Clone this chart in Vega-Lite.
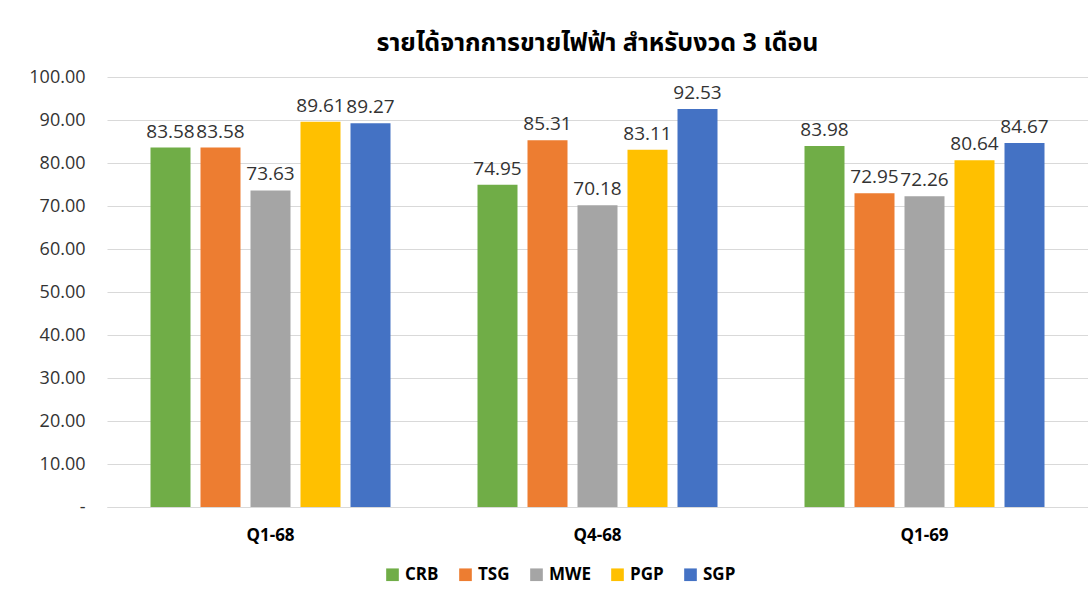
{
  "$schema": "https://vega.github.io/schema/vega-lite/v6.json",
  "width": 981,
  "height": 430,
  "padding": {"left": 28, "top": 31, "right": 0, "bottom": 5},
  "background": "white",
  "title": {
    "text": "รายได้จากการขายไฟฟ้า สำหรับงวด 3 เดือน",
    "fontSize": 25,
    "fontWeight": "bold",
    "font": "Noto Sans Thai, Noto Sans, Tahoma, sans-serif",
    "color": "#000000",
    "anchor": "middle",
    "offset": 12
  },
  "data": {
    "values": [
      {"period": "Q1-68", "company": "CRB", "value": 83.58},
      {"period": "Q1-68", "company": "TSG", "value": 83.58},
      {"period": "Q1-68", "company": "MWE", "value": 73.63},
      {"period": "Q1-68", "company": "PGP", "value": 89.61},
      {"period": "Q1-68", "company": "SGP", "value": 89.27},
      {"period": "Q4-68", "company": "CRB", "value": 74.95},
      {"period": "Q4-68", "company": "TSG", "value": 85.31},
      {"period": "Q4-68", "company": "MWE", "value": 70.18},
      {"period": "Q4-68", "company": "PGP", "value": 83.11},
      {"period": "Q4-68", "company": "SGP", "value": 92.53},
      {"period": "Q1-69", "company": "CRB", "value": 83.98},
      {"period": "Q1-69", "company": "TSG", "value": 72.95},
      {"period": "Q1-69", "company": "MWE", "value": 72.26},
      {"period": "Q1-69", "company": "PGP", "value": 80.64},
      {"period": "Q1-69", "company": "SGP", "value": 84.67}
    ]
  },
  "encoding": {
    "x": {
      "field": "period",
      "type": "nominal",
      "sort": ["Q1-68", "Q4-68", "Q1-69"],
      "scale": {"paddingInner": 0, "paddingOuter": 0},
      "axis": {
        "title": null,
        "labelAngle": 0,
        "labelFontSize": 17,
        "labelFontWeight": "bold",
        "labelFont": "Open Sans",
        "labelColor": "#000000",
        "labelPadding": 20,
        "ticks": false,
        "domainColor": "#d9d9d9",
        "domainWidth": 1
      }
    },
    "xOffset": {
      "field": "company",
      "type": "nominal",
      "sort": ["CRB", "TSG", "MWE", "PGP", "SGP"],
      "scale": {"paddingInner": 0.2, "paddingOuter": 0.87}
    },
    "y": {
      "field": "value",
      "type": "quantitative",
      "scale": {"domain": [0, 100], "nice": false},
      "axis": {
        "title": null,
        "values": [0, 10, 20, 30, 40, 50, 60, 70, 80, 90, 100],
        "labelExpr": "datum.value == 0 ? '-' : format(datum.value, '.2f')",
        "labelFontSize": 18,
        "labelFont": "Open Sans",
        "labelColor": "#333333",
        "labelPadding": 22,
        "ticks": false,
        "domain": false,
        "gridColor": "#d9d9d9",
        "gridWidth": 1
      }
    }
  },
  "layer": [
    {
      "mark": {"type": "bar"},
      "encoding": {
        "color": {
          "field": "company",
          "type": "nominal",
          "sort": ["CRB", "TSG", "MWE", "PGP", "SGP"],
          "scale": {
            "domain": ["CRB", "TSG", "MWE", "PGP", "SGP"],
            "range": ["#70ad47", "#ed7d31", "#a5a5a5", "#ffc000", "#4472c4"]
          },
          "legend": {
            "title": null,
            "orient": "none",
            "legendX": 277,
            "legendY": 489,
            "direction": "horizontal",
            "symbolType": "square",
            "symbolSize": 160,
            "symbolStrokeWidth": 0,
            "labelFontSize": 17,
            "labelFontWeight": "bold",
            "labelFont": "Open Sans",
            "labelColor": "#000000",
            "columnPadding": 18
          }
        }
      }
    },
    {
      "mark": {
        "type": "text",
        "baseline": "bottom",
        "dy": -6,
        "fontSize": 19,
        "font": "Open Sans",
        "color": "#333333"
      },
      "encoding": {
        "text": {"field": "value", "type": "quantitative", "format": ".2f"}
      }
    }
  ],
  "config": {
    "view": {"stroke": null}
  }
}
